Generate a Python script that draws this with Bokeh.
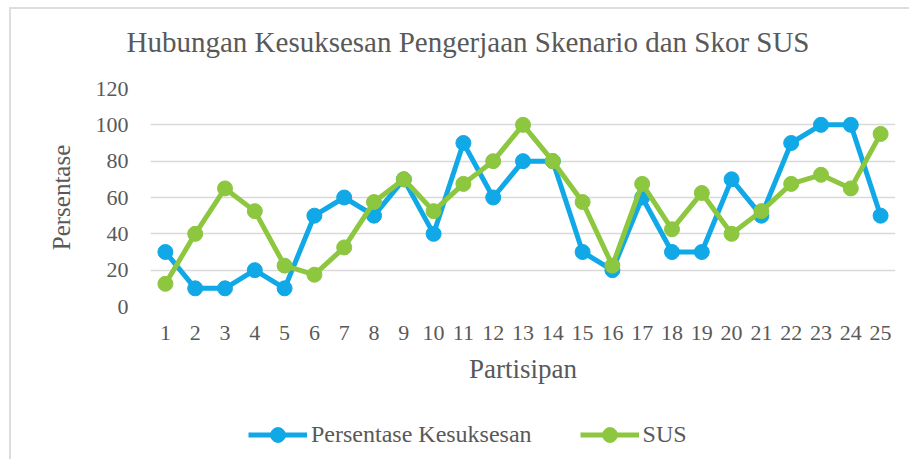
from bokeh.plotting import figure
from bokeh.layouts import column
from bokeh.models import FactorRange, Range1d, Legend, LegendItem, FixedTicker, Title
from bokeh.embed import file_html
from bokeh.resources import INLINE

participants = [str(i) for i in range(1, 26)]
kesuksesan = [30, 10, 10, 20, 10, 50, 60, 50, 70, 40, 90, 60, 80, 80, 30, 20, 60, 30, 30, 70, 50, 90, 100, 100, 50]
sus = [12.5, 40, 65, 52.5, 22.5, 17.5, 32.5, 57.5, 70, 52.5, 67.5, 80, 100, 80, 57.5, 22.5, 67.5, 42.5, 62.5, 40, 52.5, 67.5, 72.5, 65, 95]
y_ticks = [0, 20, 40, 60, 80, 100, 120]
series_names = ["Persentase Kesuksesan", "SUS"]
chart_title = "Hubungan Kesuksesan Pengerjaan Skenario dan Skor SUS"

BLUE = "#10A8E6"
GREEN = "#8DC63F"
FONT = "Liberation Serif"
TXT = "#595959"

p = figure(width=898, height=385, x_range=FactorRange(*participants, range_padding=0),
           y_range=Range1d(0, 120), output_backend="svg", toolbar_location=None, title=None,
           min_border_left=139, min_border_right=14, min_border_top=79, min_border_bottom=88)

# spacer between frame and title, then the title itself
spacer = Title(text=" ", text_font_size="1px", standoff=19)
p.add_layout(spacer, "above")
title = Title(text=chart_title, align="left", offset=-24, standoff=18,
              text_font=FONT, text_font_size="29px", text_font_style="normal", text_color=TXT)
p.add_layout(title, "above")

p.outline_line_color = None
p.ygrid.ticker = FixedTicker(ticks=y_ticks)
p.yaxis.ticker = FixedTicker(ticks=y_ticks)
p.ygrid.grid_line_color = "#D9D9D9"
p.ygrid.grid_line_width = 1.5
p.xgrid.grid_line_color = None

for ax in (p.xaxis[0], p.yaxis[0]):
    ax.axis_line_color = None
    ax.major_tick_line_color = None
    ax.minor_tick_line_color = None
    ax.major_label_text_font = FONT
    ax.major_label_text_font_size = "22px"
    ax.major_label_text_color = TXT
    ax.axis_label_text_font = FONT
    ax.axis_label_text_font_size = "25px"
    ax.axis_label_text_font_style = "normal"
    ax.axis_label_text_color = TXT

p.xaxis.axis_label = "Partisipan"
p.xaxis.axis_label_text_font_size = "27px"
p.yaxis.axis_label = "Persentase"
p.yaxis.major_label_standoff = 16
p.xaxis.major_label_standoff = 13
p.yaxis.axis_label_standoff = 18
p.xaxis.axis_label_standoff = 11

p.line(participants, kesuksesan, line_color=BLUE, line_width=5)
p.scatter(participants, kesuksesan, size=15, fill_color=BLUE, line_color=BLUE)
p.line(participants, sus, line_color=GREEN, line_width=5)
p.scatter(participants, sus, size=15, fill_color=GREEN, line_color=GREEN)

# legend strip below the chart: same series, drawn outside its (hidden) y range
p2 = figure(width=898, height=65, output_backend="svg", toolbar_location=None,
            x_range=FactorRange(*participants, range_padding=0), y_range=Range1d(500, 600),
            min_border=0, x_axis_type=None, y_axis_type=None)
p2.outline_line_color = None
p2.grid.grid_line_color = None
items = []
for name, vals, col in zip(series_names, [kesuksesan, sus], [BLUE, GREEN]):
    lr = p2.line(participants, vals, line_color=col, line_width=5)
    sr = p2.scatter(participants, vals, size=15, fill_color=col, line_color=col)
    items.append(LegendItem(label=name, renderers=[lr, sr]))
legend = Legend(items=items, orientation="horizontal", location=(98, 6),
                label_text_font=FONT, label_text_font_size="24px", label_text_color=TXT,
                glyph_width=59, glyph_height=37, spacing=48, label_standoff=4,
                border_line_color=None, background_fill_alpha=0, margin=0, padding=0)
p2.add_layout(legend, "center")

layout = column(p, p2, spacing=0, margin=(7, 0, 0, 9))
layout.styles = {"border-left": "2px solid #DDDDDD", "border-top": "2px solid #DDDDDD"}

open("out.html", "w").write(file_html(layout, INLINE))
